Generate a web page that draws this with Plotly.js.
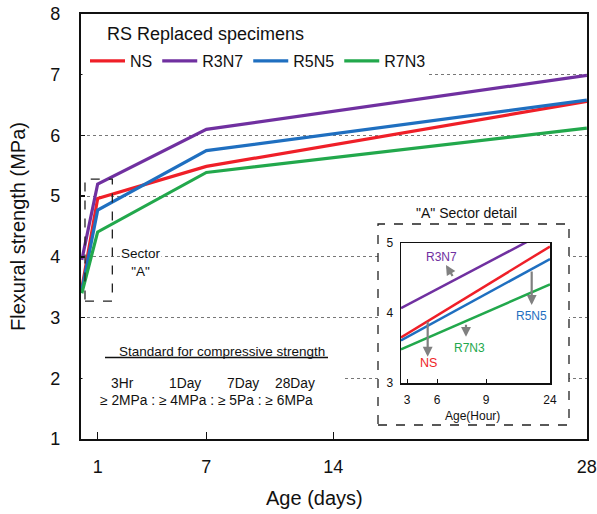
<!DOCTYPE html>
<html>
<head>
<meta charset="utf-8">
<script src="https://cdn.plot.ly/plotly-3.0.1.min.js"></script>
<style>html,body{margin:0;padding:0;background:#fff;}#chart{width:597px;height:514px;}</style>
</head>
<body>
<div id="chart"></div>
<script>
// ---- Data ----
const seriesNames = ['NS', 'R3N7', 'R5N5', 'R7N3'];
const days = [0.125, 1, 7, 28];
const NS_days = [3.48, 4.96, 5.49, 6.56];
const R3N7_days = [3.95, 5.20, 6.10, 6.99];
const R5N5_days = [3.45, 4.77, 5.75, 6.58];
const R7N3_days = [3.40, 4.41, 5.39, 6.12];

const hours = [3, 24];
const NS_hours = [3.65, 4.95];
const R3N7_hours = [4.07, 5.19];
const R5N5_hours = [3.61, 4.77];
const R7N3_hours = [3.48, 4.41];

const dayTicks = [1, 7, 14, 28];
const hourTickVals = [3.85, 8.1, 15, 24];
const hourTickText = ['3', '6', '9', '24'];

const colors = ['#ef1f28', '#7030a0', '#1f6fc0', '#22a84c'];
const FONT = 'Arial, "Liberation Sans", sans-serif';

const mainSeries = [NS_days, R3N7_days, R5N5_days, R7N3_days];
const hourSeries = [NS_hours, R3N7_hours, R5N5_hours, R7N3_hours];

const traces = [];
mainSeries.forEach((ys, i) => {
  traces.push({x: days, y: ys, type: 'scatter', mode: 'lines', name: seriesNames[i],
    line: {color: colors[i], width: 3.2}, xaxis: 'x', yaxis: 'y', cliponaxis: true});
});
// blank backing panel for the inset (white background over main gridlines)
traces.push({x: [], y: [], type: 'scatter', mode: 'lines', showlegend: false, hoverinfo: 'skip', xaxis: 'x2', yaxis: 'y2'});
hourSeries.forEach((ys, i) => {
  traces.push({x: hours, y: ys, type: 'scatter', mode: 'lines', name: seriesNames[i], showlegend: false,
    line: {color: colors[i], width: 2.5}, xaxis: 'x3', yaxis: 'y3'});
});

// pixel helpers for paper coordinates (plot area: x 81..587, y 14..439)
const L = 81, R = 587, T = 14, B = 439;
const px = v => (v - L) / (R - L);
const py = v => (B - v) / (B - T);

const annFont = (s, c) => ({family: FONT, size: s, color: c || '#111'});

const annotations = [
  {xref: 'paper', yref: 'paper', x: px(17.5), y: 0.5, text: 'Flexural strength (MPa)', textangle: -90,
    showarrow: false, xanchor: 'center', yanchor: 'middle', font: annFont(20)},
  {xref: 'paper', yref: 'paper', x: px(314), y: py(498), text: 'Age (days)',
    showarrow: false, xanchor: 'center', yanchor: 'middle', font: annFont(20)},
  {xref: 'paper', yref: 'paper', x: px(105), y: py(34), text: 'RS Replaced specimens',
    showarrow: false, xanchor: 'left', yanchor: 'middle', font: annFont(18)},
  {xref: 'paper', yref: 'paper', x: px(141), y: py(262), text: 'Sector<br>"A"',
    showarrow: false, xanchor: 'center', yanchor: 'middle', font: annFont(13.5), bgcolor: '#fff', borderpad: 0},
  {xref: 'paper', yref: 'paper', x: px(222), y: py(351.5), text: 'Standard for compressive strength',
    showarrow: false, xanchor: 'center', yanchor: 'middle', font: annFont(13.5)},
  {xref: 'paper', yref: 'paper', x: px(122), y: py(383.5), text: '3Hr', showarrow: false, xanchor: 'center', yanchor: 'middle', font: annFont(13.8)},
  {xref: 'paper', yref: 'paper', x: px(185), y: py(383.5), text: '1Day', showarrow: false, xanchor: 'center', yanchor: 'middle', font: annFont(13.8)},
  {xref: 'paper', yref: 'paper', x: px(243), y: py(383.5), text: '7Day', showarrow: false, xanchor: 'center', yanchor: 'middle', font: annFont(13.8)},
  {xref: 'paper', yref: 'paper', x: px(295), y: py(383.5), text: '28Day', showarrow: false, xanchor: 'center', yanchor: 'middle', font: annFont(13.8)},
  {xref: 'paper', yref: 'paper', x: px(206), y: py(400), text: '≥ 2MPa : ≥ 4MPa : ≥ 5Pa : ≥ 6MPa',
    showarrow: false, xanchor: 'center', yanchor: 'middle', font: annFont(13.8)},
  {xref: 'paper', yref: 'paper', x: px(466), y: py(212.5), text: '"A" Sector detail',
    showarrow: false, xanchor: 'center', yanchor: 'middle', font: annFont(14)},
  {xref: 'paper', yref: 'paper', x: px(472), y: py(415.5), text: 'Age(Hour)',
    showarrow: false, xanchor: 'center', yanchor: 'middle', font: annFont(12)},
  // inset labels
  {xref: 'x3', yref: 'y3', x: 8.64, y: 4.80, text: 'R3N7', showarrow: false, font: annFont(12, colors[1])},
  {xref: 'x3', yref: 'y3', x: 6.85, y: 3.28, text: 'NS', showarrow: false, font: annFont(12.5, colors[0])},
  {xref: 'x3', yref: 'y3', x: 21.4, y: 3.957, text: 'R5N5', showarrow: false, font: annFont(12, colors[2])},
  {xref: 'x3', yref: 'y3', x: 12.72, y: 3.50, text: 'R7N3', showarrow: false, font: annFont(12, colors[3])},
  // inset arrows
  {xref: 'x3', yref: 'y3', x: 9.34, y: 4.686, ax: 7.5, ay: 12.5, text: '', showarrow: true,
    arrowhead: 2, arrowsize: 0.9, arrowwidth: 2.2, arrowcolor: '#808080', standoff: 0},
  {xref: 'x3', yref: 'y3', x: 6.76, y: 3.376, ax: 0, ay: -36.5, text: '', showarrow: true,
    arrowhead: 2, arrowsize: 0.9, arrowwidth: 2.2, arrowcolor: '#808080', standoff: 0},
  {xref: 'x3', yref: 'y3', x: 21.42, y: 4.114, ax: 0, ay: -35, text: '', showarrow: true,
    arrowhead: 2, arrowsize: 0.9, arrowwidth: 2.2, arrowcolor: '#808080', standoff: 0},
  {xref: 'x3', yref: 'y3', x: 12.16, y: 3.66, ax: 0, ay: -13.5, text: '', showarrow: true,
    arrowhead: 2, arrowsize: 0.9, arrowwidth: 2.2, arrowcolor: '#808080', standoff: 0}
];

const shapes = [
  // white backing under legend & standard text (hide gridlines there)
  {type: 'rect', xref: 'paper', yref: 'paper', x0: px(82.5), x1: px(426), y0: py(20), y1: py(82),
    fillcolor: '#fff', line: {width: 0}, layer: 'above'},
  {type: 'rect', xref: 'paper', yref: 'paper', x0: px(82.5), x1: px(344), y0: py(336), y1: py(414),
    fillcolor: '#fff', line: {width: 0}, layer: 'above'},
  // Sector "A" dashed box
  {type: 'rect', xref: 'x', yref: 'y', x0: 0.30, x1: 1.81, y0: 3.27, y1: 5.28,
    line: {color: '#222', width: 1.3, dash: 'dash'}, fillcolor: 'rgba(0,0,0,0)', layer: 'above'},
  // underline of the standard heading
  {type: 'line', xref: 'paper', yref: 'paper', x0: px(105), x1: px(328), y0: py(357.5), y1: py(357.5),
    line: {color: '#111', width: 1.3}},
  // inset dashed frame
  {type: 'rect', xref: 'paper', yref: 'paper', x0: px(378), x1: px(569), y0: py(425), y1: py(224),
    line: {color: '#222', width: 1.3, dash: 'dash'}, fillcolor: 'rgba(0,0,0,0)', layer: 'above'}
];

const layout = {
  width: 597, height: 514,
  margin: {l: L, r: 597 - R, t: T, b: 514 - B, pad: 0},
  paper_bgcolor: '#fff', plot_bgcolor: '#fff',
  font: {family: FONT, color: '#111'},
  showlegend: true,
  legend: {orientation: 'h', x: px(85), xanchor: 'left', y: py(61), yanchor: 'middle',
    font: {family: FONT, size: 16, color: '#111'}, bgcolor: 'rgba(0,0,0,0)', borderwidth: 0,
    itemwidth: 35, tracegroupgap: 0},
  xaxis: {domain: [0, 1], range: [0.08, 28.01], tickvals: dayTicks, ticktext: dayTicks.map(String),
    ticks: 'inside', ticklen: 7, tickwidth: 1.3, tickcolor: '#111',
    showline: true, linewidth: 2.2, linecolor: '#111', mirror: true, showgrid: false, zeroline: false,
    tickfont: {family: FONT, size: 18, color: '#111'}, ticklabelstandoff: 10, ticklabeloverflow: 'allow', anchor: 'y'},
  yaxis: {domain: [0, 1], range: [1, 8], tickvals: [1, 2, 3, 4, 5, 6, 7, 8],
    ticks: 'inside', ticklen: 4, tickwidth: 1.3, tickcolor: '#111',
    showline: true, linewidth: 2.2, linecolor: '#111', mirror: true,
    showgrid: true, gridcolor: '#777', griddash: 'dot', gridwidth: 1, zeroline: false,
    tickfont: {family: FONT, size: 18, color: '#111'}, ticklabelstandoff: 15, anchor: 'x'},
  xaxis2: {domain: [px(378), px(569)], range: [0, 1], visible: false, anchor: 'y2', fixedrange: true},
  yaxis2: {domain: [py(425), py(224)], range: [0, 1], visible: false, anchor: 'x2', fixedrange: true},
  xaxis3: {domain: [px(401), px(550)], range: [3, 24], tickvals: hourTickVals, ticktext: hourTickText,
    ticks: 'inside', ticklen: 4, tickwidth: 1, tickcolor: '#111',
    showline: true, linewidth: 1.5, linecolor: '#111', mirror: true, showgrid: false, zeroline: false,
    tickfont: {family: FONT, size: 12, color: '#111'}, ticklabelstandoff: 5, ticklabeloverflow: 'allow', anchor: 'y3'},
  yaxis3: {domain: [py(383), py(243)], range: [3, 5], tickvals: [3, 4, 5],
    ticks: '', showline: true, linewidth: 1.5, linecolor: '#111', mirror: true, showgrid: false, zeroline: false,
    tickfont: {family: FONT, size: 12, color: '#111'}, ticklabelstandoff: 4, anchor: 'x3'},
  annotations: annotations,
  shapes: shapes
};

Plotly.newPlot('chart', traces, layout, {staticPlot: true, displayModeBar: false});
</script>
</body>
</html>
